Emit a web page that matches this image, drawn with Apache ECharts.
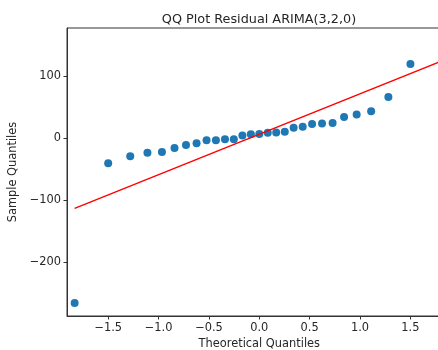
<!DOCTYPE html>
<html>
<head>
<meta charset="utf-8">
<script src="https://cdn.jsdelivr.net/npm/echarts@6/dist/echarts.min.js"></script>
<style>html,body{margin:0;padding:0;background:#fff;}#c{width:438px;height:350px;}</style>
</head>
<body>
<div id="c"></div>
<script>
const theoretical = [-1.834, -1.501, -1.282, -1.111, -0.967, -0.842, -0.728, -0.623, -0.524, -0.431, -0.341, -0.253, -0.168, -0.084, 0.0,
  0.084, 0.168, 0.253, 0.341, 0.431, 0.524, 0.623, 0.728, 0.842, 0.967, 1.111, 1.282, 1.501, 1.834];
const sample = [-265.6, -40.3, -29.0, -23.2, -22.1, -15.6, -10.8, -8.1, -3.2, -3.2, -1.6, -1.6, 4.5, 6.5, 7.0,
  9.0, 9.5, 10.5, 17.0, 18.5, 23.0, 24.0, 24.5, 34.5, 38.5, 43.5, 66.5, 120.0, 157.0];
const lineX = [-1.834, 1.834];
const lineY = [-112.9, 126.3];
const xTicks = [-1.5, -1.0, -0.5, 0.0, 0.5, 1.0, 1.5];
const yTicks = [-200, -100, 0, 100];
const titleText = 'QQ Plot Residual ARIMA(3,2,0)';
const xName = 'Theoretical Quantiles';
const yName = 'Sample Quantiles';

const font = 'DejaVu Sans';
const txt = '#262626';
const chart = echarts.init(document.getElementById('c'), null, {renderer: 'canvas'});
chart.setOption({
  animation: false,
  backgroundColor: '#fff',
  title: {
    text: titleText, left: 254, top: 8, textAlign: 'center',
    textStyle: {fontFamily: font, fontSize: 12.8, fontWeight: 'normal', color: txt}
  },
  grid: {left: 67, top: 28, right: -13.6, bottom: 34, outerBoundsMode: 'none', containLabel: false,
    show: true, borderColor: '#333', borderWidth: 1, backgroundColor: 'transparent'},
  xAxis: {
    type: 'value', min: -1.91, max: 1.91,
    name: xName, nameLocation: 'middle', nameGap: 22,
    nameTextStyle: {fontFamily: font, fontSize: 11.4, color: txt},
    axisLine: {show: true, onZero: false, lineStyle: {color: '#333', width: 1}},
    axisTick: {show: true, length: 3.5, customValues: xTicks, lineStyle: {color: '#333'}},
    axisLabel: {customValues: xTicks, fontFamily: font, fontSize: 11.4, color: txt, margin: 7,
      formatter: v => (v < 0 ? '\u2212' : '') + Math.abs(v).toFixed(1)},
    splitLine: {show: false}
  },
  yAxis: {
    type: 'value', min: -286.6, max: 177.9,
    name: yName, nameLocation: 'middle', nameGap: 38,
    nameTextStyle: {fontFamily: font, fontSize: 11.4, color: txt},
    axisLine: {show: true, onZero: false, lineStyle: {color: '#333', width: 1}},
    axisTick: {show: true, length: 3.5, customValues: yTicks, lineStyle: {color: '#333'}},
    axisLabel: {customValues: yTicks, fontFamily: font, fontSize: 11.4, color: txt, margin: 6,
      formatter: v => (v < 0 ? '\u2212' : '') + Math.abs(v)},
    splitLine: {show: false}
  },
  series: [
    {
      type: 'scatter', symbol: 'circle', symbolSize: 8,
      itemStyle: {color: '#1f77b4', opacity: 1},
      data: theoretical.map((x, i) => [x, sample[i]]),
      clip: false, z: 2
    },
    {
      type: 'line', symbol: 'none', silent: true,
      lineStyle: {color: '#ff0000', width: 1.4},
      data: lineX.map((x, i) => [x, lineY[i]]),
      z: 3
    }
  ]
});
</script>
</body>
</html>
